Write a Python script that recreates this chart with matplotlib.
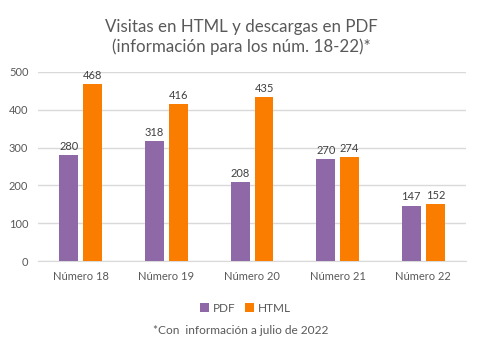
import matplotlib
matplotlib.use("Agg")
import matplotlib.pyplot as plt
import numpy as np

categories = ["Número 18", "Número 19", "Número 20", "Número 21", "Número 22"]
pdf_values = [280, 318, 208, 270, 147]
html_values = [468, 416, 435, 274, 152]
yticks = [0, 100, 200, 300, 400, 500]

plt.rcParams['font.family'] = ['Lato', 'DejaVu Sans']
txt = '#595959'
c_pdf = '#8E68A7'
c_html = '#FA7D00'

fig = plt.figure(figsize=(4.82, 3.51), dpi=100)
ax = fig.add_axes([0.079, 0.256, 0.888, 0.539])
x = np.arange(len(categories))
w = 0.22
off = 0.14
b1 = ax.bar(x - off, pdf_values, w, color=c_pdf, label='PDF', zorder=3)
b2 = ax.bar(x + off, html_values, w, color=c_html, label='HTML', zorder=3)
for bars in (b1, b2):
    for r in bars:
        ax.text(r.get_x() + r.get_width() / 2, r.get_height() + 8, f"{int(r.get_height())}",
                ha='center', va='bottom', fontsize=8, color='#404040')
ax.set_xlim(-0.5, len(categories) - 0.5)
ax.set_ylim(0, 500)
ax.set_yticks(yticks)
ax.set_xticks(x)
ax.set_xticklabels(categories)
ax.tick_params(axis='both', length=0, labelsize=8, colors=txt)
ax.tick_params(axis='x', pad=7)
ax.tick_params(axis='y', pad=7)
ax.grid(axis='y', color='#D9D9D9', linewidth=1, zorder=0)
for s in ['top', 'right', 'left']:
    ax.spines[s].set_visible(False)
ax.spines['bottom'].set_color('#D9D9D9')

fig.text(0.5, 0.895, "Visitas en HTML y descargas en PDF\n(información para los núm. 18-22)*",
         ha='center', va='center', fontsize=12.2, color=txt, linespacing=1.3)
fig.legend(handles=[b1, b2], labels=['PDF', 'HTML'], loc='center', bbox_to_anchor=(0.51, 0.122),
           ncol=2, frameon=False, fontsize=8.5, labelcolor=txt, handlelength=0.7, handleheight=0.7,
           handletextpad=0.4, columnspacing=0.8)
fig.text(0.5, 0.058, "*Con  información a julio de 2022", ha='center', va='center', fontsize=8.6, color=txt)
fig.savefig("out.png", dpi=100)
